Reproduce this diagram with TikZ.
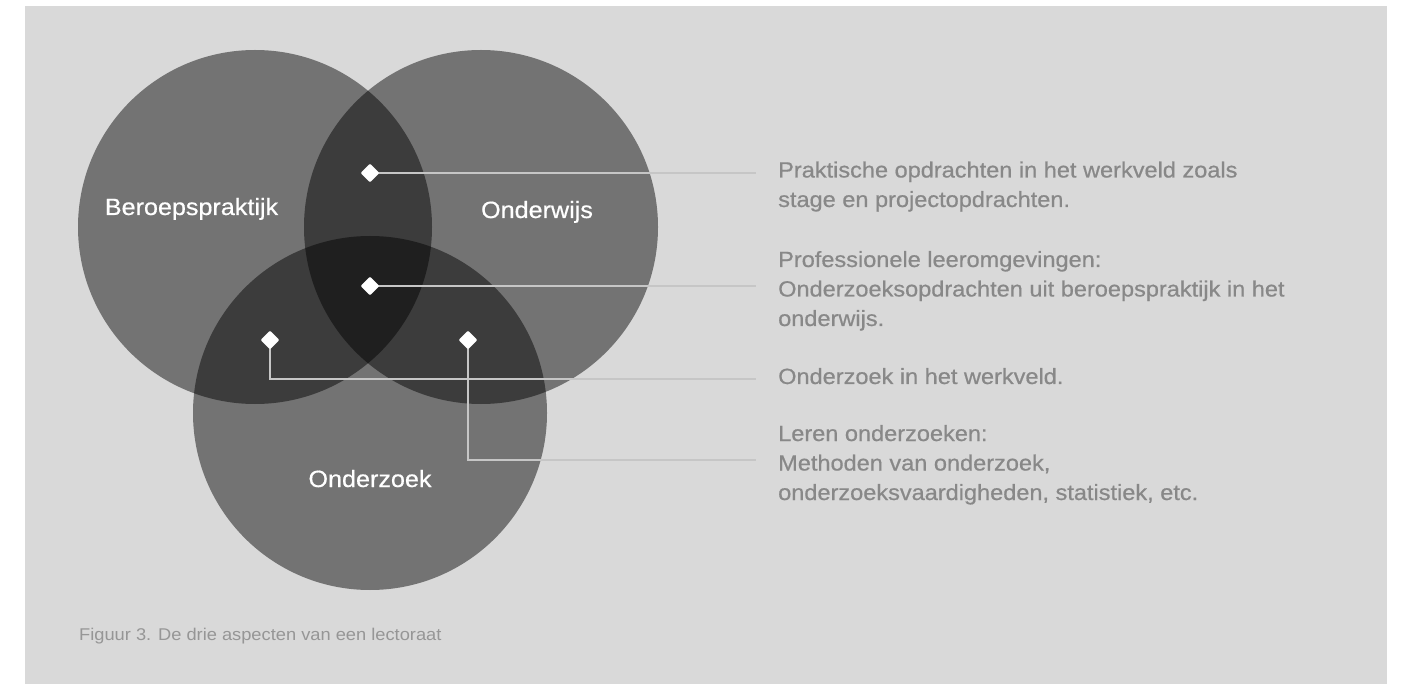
\documentclass[tikz,border=0pt]{standalone}
\usepackage{fontspec}
\setmainfont{Liberation Sans}[FakeStretch=1.07, FakeBold=0.6]
\newfontfamily\capfont{Liberation Sans}[FakeStretch=1.075]
\usetikzlibrary{shapes.geometric}

\definecolor{panelgray}{RGB}{217,217,217}
\definecolor{onegray}{RGB}{115,115,115}
\definecolor{twogray}{RGB}{60,60,60}
\definecolor{threegray}{RGB}{31,31,31}
\definecolor{leadgray}{RGB}{198,198,198}
\definecolor{textgray}{RGB}{136,136,136}
\definecolor{capgray}{RGB}{150,150,150}

\tikzset{
    marker/.style={diamond, fill=white, inner sep=0pt, minimum width=19pt, minimum height=19pt, rounded corners=1pt},
    lead/.style={draw=leadgray, line width=2.5pt},
    setlabel/.style={text=white, anchor=base, inner sep=0pt, font=\fontsize{23.5}{26}\selectfont},
    infotext/.style={text=textgray, align=left, anchor=base west, inner sep=0pt, font=\fontsize{22}{29.5}\selectfont},
}

\begin{document}
\begin{tikzpicture}[x=1pt, y=-1pt]
    \useasboundingbox (0,0) rectangle (1405,684);
    \fill[white] (0,0) rectangle (1405,684);
    \fill[panelgray] (25,6) rectangle (1387,684);

    % the three sets
    \fill[onegray] (255,227) circle[radius=177pt];
    \fill[onegray] (481,227) circle[radius=177pt];
    \fill[onegray] (370,413) circle[radius=177pt];
    \begin{scope}
        \clip (255,227) circle[radius=177pt];
        \fill[twogray] (481,227) circle[radius=177pt];
        \fill[twogray] (370,413) circle[radius=177pt];
    \end{scope}
    \begin{scope}
        \clip (481,227) circle[radius=177pt];
        \fill[twogray] (370,413) circle[radius=177pt];
        \clip (255,227) circle[radius=177pt];
        \fill[threegray] (370,413) circle[radius=177pt];
    \end{scope}

    \node[setlabel] (beroep) at (191.5,215) {Beroepspraktijk};
    \node[setlabel] (onderwijs) at (537,218) {Onderwijs};
    \node[setlabel] (onderzoek) at (370,487) {Onderzoek};

    % markers and leads
    \coordinate (e1) at (756,173);
    \coordinate (e2) at (756,286);
    \coordinate (e3) at (756,379);
    \coordinate (e4) at (756,460);

    \draw[lead] (370,173) -- (e1);
    \draw[lead] (370,286) -- (e2);
    \draw[lead] (270,340) |- (e3);
    \draw[lead] (468,340) |- (e4);

    \node[marker] (m1) at (370,173) {};
    \node[marker] (m2) at (370,286) {};
    \node[marker] (m3) at (270,340) {};
    \node[marker] (m4) at (468,340) {};

    % texts on the right (base = last line)
    \node[infotext] (t1) at (778,207) {Praktische opdrachten in het werkveld zoals\\stage en projectopdrachten.};
    \node[infotext] (t2) at (778,326) {Professionele leeromgevingen:\\Onderzoeksopdrachten uit beroepspraktijk in het\\onderwijs.};
    \node[infotext] (t3) at (778,384) {Onderzoek in het werkveld.};
    \node[infotext] (t4) at (778,500) {Leren onderzoeken:\\Methoden van onderzoek,\\onderzoeksvaardigheden, statistiek, etc.};

    \node[text=capgray, anchor=base west, inner sep=0pt, font=\capfont\fontsize{17}{20}\selectfont] (caption) at (79,640) {Figuur 3. De drie aspecten van een lectoraat};
\end{tikzpicture}
\end{document}
